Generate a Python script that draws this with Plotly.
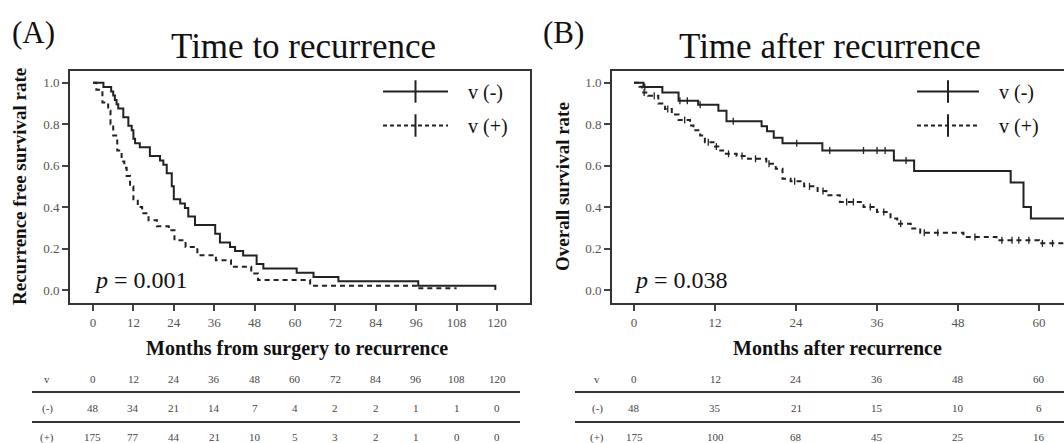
import plotly.graph_objects as go

# ---------------- Data ----------------
# Panel A: time to recurrence (months), Kaplan-Meier step points
a_neg_t = [0, 3.1, 5.4, 6.0, 6.5, 7.0, 7.5, 9.0, 10.5, 11.5, 12.0, 12.5, 13.9, 16.9, 19.9, 20.9,
           21.9, 23.4, 24.0, 25.9, 27.3, 28.3, 30.3, 36.3, 37.7, 40.7, 42.2, 44.6, 48.6, 50.6,
           60.5, 65.5, 72.9, 96.6, 119.5]
a_neg_s = [1.0, 0.979, 0.958, 0.938, 0.917, 0.896, 0.875, 0.833, 0.792, 0.771, 0.729, 0.708,
           0.688, 0.646, 0.625, 0.604, 0.563, 0.500, 0.438, 0.417, 0.396, 0.354, 0.313, 0.271,
           0.229, 0.208, 0.188, 0.167, 0.125, 0.104, 0.083, 0.063, 0.042, 0.021, 0.0]

a_pos_t = [0, 1.0, 2.8, 4.5, 5.2, 6.0, 7.2, 8.5, 9.3, 10.0, 11.0, 12.0, 13.3, 14.6, 16.5, 19.0,
           22.5, 24.2, 27.5, 31.0, 36.5, 41.0, 47.0, 49.0, 64.5, 96.5, 108.0]
a_pos_s = [1.0, 0.966, 0.905, 0.865, 0.80, 0.745, 0.673, 0.62, 0.59, 0.55, 0.50, 0.43, 0.40,
           0.37, 0.337, 0.307, 0.288, 0.24, 0.208, 0.168, 0.144, 0.112, 0.08, 0.048, 0.021,
           0.008, 0.008]

# Panel B: time after recurrence (months)
b_neg_t = [0, 1.4, 4.2, 6.6, 9.5, 12.5, 13.7, 18.9, 19.7, 20.7, 22.0, 27.9, 38.5, 41.5, 55.8,
           57.7, 58.8, 63.7]
b_neg_s = [1.0, 0.979, 0.953, 0.913, 0.893, 0.865, 0.814, 0.79, 0.766, 0.734, 0.708, 0.673,
           0.625, 0.574, 0.518, 0.40, 0.345, 0.345]
b_neg_cens = [1.6, 6.8, 7.9, 9.8, 14.7, 24.1, 29.0, 34.0, 36.0, 37.2, 40.3]

b_pos_t = [0, 0.8, 1.2, 2.1, 3.6, 4.6, 5.6, 6.6, 8.3, 8.8, 9.8, 10.5, 12.0, 12.5, 13.2, 15.2,
           16.9, 19.6, 21.0, 22.0, 23.2, 25.2, 27.2, 28.5, 30.5, 34.0, 36.0, 38.0, 39.0, 41.0,
           42.4, 48.8, 53.7, 60.0, 63.7]
b_pos_s = [1.0, 0.98, 0.953, 0.937, 0.90, 0.873, 0.846, 0.82, 0.793, 0.77, 0.745, 0.713, 0.692,
           0.673, 0.657, 0.646, 0.633, 0.609, 0.585, 0.537, 0.525, 0.50, 0.477, 0.457, 0.425,
           0.40, 0.376, 0.345, 0.32, 0.297, 0.276, 0.256, 0.24, 0.225, 0.225]
b_pos_cens = [1.5, 3.0, 5.0, 7.5, 11.0, 12.2, 14.0, 16.0, 18.0, 20.0, 23.8, 26.0, 28.0, 31.5,
              32.5, 35.0, 37.0, 39.5, 43.0, 45.0, 50.5, 54.5, 56.0, 57.0, 58.5, 60.5, 62.0]

# Numbers at risk
a_risk_t = [0, 12, 24, 36, 48, 60, 72, 84, 96, 108, 120]
a_risk_neg = [48, 34, 21, 14, 7, 4, 2, 2, 1, 1, 0]
a_risk_pos = [175, 77, 44, 21, 10, 5, 3, 2, 1, 0, 0]
b_risk_t = [0, 12, 24, 36, 48, 60]
b_risk_neg = [48, 35, 21, 15, 10, 6]
b_risk_pos = [175, 100, 68, 45, 25, 16]

labels = ["v (-)", "v (+)"]

# ---------------- Helpers ----------------
W, H = 1064, 443
SERIF = "Liberation Serif"
LINE = "#222222"
DASH = "5px,4px"


def px(xp):
    return xp / W


def py(yp):
    return 1 - yp / H


def s_at(t, times, surv):
    val = surv[0]
    for ti, si in zip(times, surv):
        if ti <= t:
            val = si
    return val


fig = go.Figure()


def add_curve(times, surv, dash, xa, ya, cens=None):
    fig.add_trace(go.Scatter(x=times, y=surv, mode="lines", line_shape="hv",
                             line=dict(color=LINE, width=2, dash=dash),
                             showlegend=False, xaxis=xa, yaxis=ya, hoverinfo="skip"))
    if cens:
        fig.add_trace(go.Scatter(x=cens, y=[s_at(c, times, surv) for c in cens], mode="markers",
                                 marker=dict(symbol="line-ns", size=5,
                                             line=dict(color=LINE, width=1.3)),
                                 showlegend=False, xaxis=xa, yaxis=ya, hoverinfo="skip"))


add_curve(a_neg_t, a_neg_s, "solid", "x", "y")
add_curve(a_pos_t, a_pos_s, DASH, "x", "y")
add_curve(b_neg_t, b_neg_s, "solid", "x2", "y2", b_neg_cens)
add_curve(b_pos_t, b_pos_s, DASH, "x2", "y2", b_pos_cens)

# legend entries
NB = "\u00a0\u00a0\u00a0"
for lg, xa, ya in [("legend", "x", "y"), ("legend2", "x2", "y2")]:
    for lab, dash in zip(labels, ["solid", "4px,3px"]):
        fig.add_trace(go.Scatter(x=[None], y=[None], mode="lines+markers", name=NB + lab,
                                 line=dict(color=LINE, width=2, dash=dash),
                                 marker=dict(symbol="line-ns", size=16,
                                             line=dict(color=LINE, width=2)),
                                 legend=lg, legendgroup=lg + lab, xaxis=xa, yaxis=ya))

ydom = [py(303), py(71)]
yrange = [-0.0627, 1.0564]
axis_common = dict(showgrid=False, zeroline=False, showline=True, linewidth=2, linecolor="#333",
                   ticks="outside", ticklen=6, tickwidth=1.5, tickcolor="#444",
                   tickfont=dict(family=SERIF, size=13, color="#555"))

fig.update_layout(
    width=W, height=H, margin=dict(l=0, r=0, t=0, b=0),
    paper_bgcolor="white", plot_bgcolor="white",
    xaxis=dict(domain=[px(70), px(530)], range=[-6.83, 129.8], tickvals=a_risk_t,
               anchor="y", mirror=True, **axis_common),
    yaxis=dict(domain=ydom, range=yrange, tickvals=[0, 0.2, 0.4, 0.6, 0.8, 1.0],
               tickformat=".1f", anchor="x", mirror=True, **axis_common),
    xaxis2=dict(domain=[px(612), 1.0], range=[-3.26, 63.7], tickvals=b_risk_t,
                anchor="y2", mirror=True, **axis_common),
    yaxis2=dict(domain=ydom, range=yrange, tickvals=[0, 0.2, 0.4, 0.6, 0.8, 1.0],
                tickformat=".1f", anchor="x2", mirror=False, **axis_common),
    legend=dict(x=px(378), y=py(72), xanchor="left", yanchor="top", itemwidth=65,
                bgcolor="rgba(0,0,0,0)", font=dict(family=SERIF, size=20, color="#111"),
                tracegroupgap=5),
    legend2=dict(x=px(912), y=py(72), xanchor="left", yanchor="top", itemwidth=62,
                 bgcolor="rgba(0,0,0,0)", font=dict(family=SERIF, size=20, color="#111"),
                 tracegroupgap=5),
)

ann = []


def text(x, y, s, size, weight="normal", angle=0, color="#111", xref="paper", xanchor="center"):
    ann.append(dict(x=x, y=y, xref=xref, yref="paper", text=s, showarrow=False,
                    xanchor=xanchor, yanchor="middle", textangle=angle,
                    font=dict(family=SERIF, size=size, color=color, weight=weight)))


text(px(33), py(32), "(A)", 31)
text(px(303), py(47), "Time to recurrence", 35)
text(px(563), py(32), "(B)", 31)
text(px(830), py(47), "Time after recurrence", 35)
text(px(20), py(187), "Recurrence free survival rate", 19, "bold", -90)
text(px(563), py(187), "Overall survival rate", 19, "bold", -90)
text(px(297), py(348), "Months from surgery to recurrence", 20, "bold")
text(px(837), py(348), "Months after recurrence", 20, "bold")
text(px(92), py(280), "<i>p</i> = 0.001", 24, xanchor="left")
text(px(632), py(280), "<i>p</i> = 0.038", 24, xanchor="left")

# at-risk tables
for xr, ts, neg, pos, lx in [("x", a_risk_t, a_risk_neg, a_risk_pos, 47),
                             ("x2", b_risk_t, b_risk_neg, b_risk_pos, 597)]:
    text(px(lx), py(379), "v", 11, color="#444")
    text(px(lx), py(408), "(-)", 11, color="#444")
    text(px(lx), py(437), "(+)", 11, color="#444")
    for t, n1, n2 in zip(ts, neg, pos):
        text(t, py(379), str(t), 11, color="#444", xref=xr)
        text(t, py(408), str(n1), 11, color="#444", xref=xr)
        text(t, py(437), str(n2), 11, color="#444", xref=xr)

shapes = []
for x0, x1 in [(px(32), px(520)), (px(575), 1.0)]:
    for yy in [392, 422]:
        shapes.append(dict(type="line", xref="paper", yref="paper", x0=x0, x1=x1,
                           y0=py(yy), y1=py(yy), line=dict(color="#333", width=2)))

fig.update_layout(annotations=ann, shapes=shapes)
fig.write_html("out.html", config={"displayModeBar": False},
               post_script="document.body.style.margin='0';document.body.style.overflow='hidden';")
